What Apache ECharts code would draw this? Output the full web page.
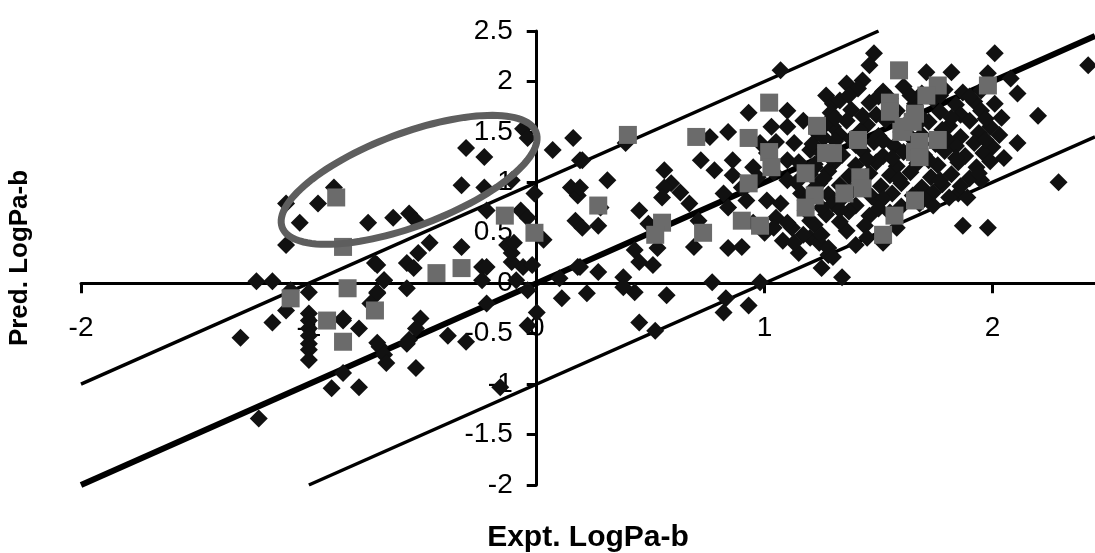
<!DOCTYPE html>
<html>
<head>
<meta charset="utf-8">
<title>Pred. vs Expt. LogPa-b</title>
<script src="https://cdn.jsdelivr.net/npm/echarts@6/dist/echarts.min.js"></script>
<style>
    html, body { margin: 0; padding: 0; background: #fff; }
    #chart { width: 1095px; height: 553px; }
</style>
</head>
<body>
<div id="chart"></div>
<script>
    // axis ticks
    var xTicks = [-2, -1, 0, 1, 2];
    var xMin = -2, xMax = 2.45;
    var yMin = -2, yMax = 2.5, yStep = 0.5;

    // reference lines: y = x, y = x + 1, y = x - 1
    var lineMid = [[-2, -2], [2.45, 2.45]];
    var lineUp = [[-2, -1], [1.5, 2.5]];
    var lineLow = [[-1, -2], [2.45, 1.45]];

    // black diamonds (Expt, Pred)
    var blackPts = [
        // left group
        [-1.30, -0.54], [-1.22, -1.34], [-1.23, 0.02], [-1.16, 0.02], [-1.16, -0.39],
        [-1.10, 0.79], [-1.04, 0.60], [-0.96, 0.79], [-0.89, 0.95], [-1.10, 0.38],
        [-1.08, -0.07], [-1.00, -0.09], [-1.10, -0.27],
        [-1.00, -0.30], [-1.00, -0.37], [-1.00, -0.45], [-1.00, -0.52], [-1.00, -0.60], [-1.00, -0.66], [-1.00, -0.76],
        [-0.85, -0.37], [-0.78, -0.45], [-0.71, 0.20], [-0.67, 0.03], [-0.70, -0.09],
        [-0.69, -0.63], [-0.85, -0.89], [-0.90, -1.04], [-0.78, -1.03],
        // inside the ellipse
        [-0.74, 0.60], [-0.63, 0.65], [-0.56, 0.69], [-0.53, 0.62], [-0.31, 1.34],
        [-0.23, 1.25], [-0.33, 0.97], [-0.23, 0.95], [-0.22, 0.72], [-0.06, 1.53],
        [-0.04, 1.44], [-0.11, 1.02],
        // around x = 0
        [-0.01, 0.89], [-0.07, 0.72], [-0.04, 0.65], [0.07, 1.32], [0.16, 1.44],
        [0.19, 1.22], [0.15, 0.95], [0.18, 0.87], [0.17, 0.62],
        [-0.47, 0.40], [-0.52, 0.30], [-0.57, 0.20], [-0.54, 0.15], [-0.70, 0.18],
        [-0.33, 0.36], [-0.24, 0.16], [-0.13, 0.38], [-0.11, 0.21], [-0.06, 0.16],
        [-0.02, 0.18], [0.03, 0.43], [-0.11, 0.30], [-0.24, 0.03], [-0.09, 0.03],
        [-0.04, -0.07], [-0.22, -0.20], [-0.57, -0.05], [-0.67, 0.03], [-0.70, -0.10],
        [-0.73, -0.20], [-0.85, -0.35], [-0.51, -0.35], [-0.53, -0.45], [-0.56, -0.56],
        [-0.70, -0.59], [-0.67, -0.71], [-0.66, -0.79], [-0.39, -0.52], [-0.31, -0.58],
        [-0.53, -0.84], [0.00, -0.29], [-0.04, -0.42], [0.11, -0.15], [0.10, 0.05],
        [0.18, 0.16], [0.22, -0.10], [-0.16, -1.03], [-0.22, 0.16], [-0.10, 0.40],
        [-0.57, -0.60],
        // 0.2 .. 1.3
        [1.07, 2.11], [0.93, 1.69], [1.10, 1.71], [1.03, 1.55], [1.10, 1.55],
        [1.17, 1.61], [1.27, 1.86], [1.30, 1.78], [0.84, 1.50], [0.76, 1.45],
        [0.20, 1.22], [0.31, 1.02], [0.19, 0.95], [0.39, 1.39], [0.56, 1.12],
        [0.59, 0.99], [0.56, 0.95], [0.63, 0.90], [0.55, 0.85], [0.72, 1.22],
        [0.78, 1.12], [0.86, 1.22], [0.86, 1.07], [0.95, 1.15], [0.98, 1.39],
        [1.01, 1.29], [1.04, 1.10], [1.10, 1.22], [1.13, 1.39], [0.82, 0.89],
        [0.84, 0.75], [0.92, 0.82], [1.01, 0.82], [1.07, 0.79], [0.67, 0.79],
        [0.71, 0.62], [0.45, 0.72], [0.49, 0.59], [0.27, 0.57], [0.20, 0.55],
        [0.28, 0.75], [1.16, 0.89], [1.10, 1.02], [1.20, 1.32], [1.30, 1.55],
        [0.27, 0.11], [0.38, 0.06], [0.43, -0.09], [0.38, -0.04], [0.43, 0.33],
        [0.45, 0.21], [0.51, 0.18], [0.57, -0.12], [0.45, -0.39], [0.52, -0.47],
        [0.77, 0.01], [0.83, -0.15], [0.82, -0.29], [0.93, -0.22], [0.98, 0.01],
        [0.69, 0.36], [0.84, 0.35], [0.90, 0.36], [1.25, 0.15], [1.28, 0.28],
        [0.53, 0.35], [0.19, 0.16],
        [1.05, 0.65], [1.12, 0.55], [1.18, 0.72], [1.00, 0.50], [1.08, 0.42],
        [1.20, 0.45], [1.15, 0.30], [0.95, 0.60], [1.22, 0.95], [1.15, 1.20],
        [1.05, 1.40], [1.22, 1.15], [1.20, 0.62], [0.90, 0.95], [0.97, 1.05],
        [1.10, 0.60], [1.17, 0.48], [1.24, 0.40], [1.28, 0.35],
        // right group edges
        [1.48, 2.28], [1.46, 2.16], [1.36, 1.98], [1.43, 2.01], [2.01, 2.28],
        [2.42, 2.16], [1.71, 2.09], [1.82, 2.09], [1.98, 2.08], [2.08, 2.03],
        [2.11, 1.88], [2.20, 1.66], [2.11, 1.39], [2.29, 1.00], [2.05, 1.24],
        [1.95, 1.02], [1.87, 0.57], [1.98, 0.55], [1.34, 0.06], [1.30, 0.26],
        [1.74, 0.77], [1.85, 0.89], [1.89, 0.85], [1.58, 0.55], [1.36, 0.52],
        // dense cluster
        [1.41, 1.93], [1.52, 1.90], [1.61, 1.95], [1.69, 1.88], [1.79, 1.92], [1.87, 1.89], [1.95, 1.91],
        [1.33, 1.81], [1.46, 1.79], [1.55, 1.83], [1.66, 1.78], [1.74, 1.82], [1.84, 1.77], [1.92, 1.80], [2.01, 1.78],
        [1.29, 1.69], [1.38, 1.72], [1.49, 1.67], [1.58, 1.71], [1.68, 1.66], [1.77, 1.70], [1.86, 1.67], [1.95, 1.71], [2.04, 1.64],
        [1.27, 1.58], [1.36, 1.61], [1.45, 1.57], [1.53, 1.62], [1.63, 1.58], [1.72, 1.60], [1.81, 1.56], [1.90, 1.61], [1.99, 1.55],
        [1.23, 1.49], [1.33, 1.47], [1.42, 1.51], [1.50, 1.46], [1.60, 1.50], [1.69, 1.47], [1.78, 1.52], [1.86, 1.45], [1.94, 1.49], [2.03, 1.47],
        [1.21, 1.38], [1.31, 1.41], [1.40, 1.37], [1.48, 1.40], [1.57, 1.36], [1.66, 1.41], [1.75, 1.38], [1.84, 1.36], [1.92, 1.39], [2.00, 1.35],
        [1.25, 1.29], [1.34, 1.27], [1.43, 1.31], [1.52, 1.26], [1.61, 1.30], [1.70, 1.27], [1.79, 1.31], [1.88, 1.26], [1.96, 1.29],
        [1.22, 1.18], [1.31, 1.21], [1.40, 1.17], [1.49, 1.20], [1.58, 1.16], [1.67, 1.19], [1.76, 1.17], [1.85, 1.20], [1.93, 1.15],
        [1.20, 1.08], [1.28, 1.11], [1.37, 1.06], [1.46, 1.09], [1.55, 1.07], [1.64, 1.10], [1.73, 1.05], [1.82, 1.08], [1.90, 1.04],
        [1.24, 0.99], [1.33, 0.97], [1.42, 1.01], [1.51, 0.96], [1.60, 0.99], [1.69, 0.95], [1.78, 0.98], [1.86, 0.96],
        [1.28, 0.88], [1.38, 0.91], [1.47, 0.86], [1.56, 0.89], [1.65, 0.87], [1.74, 0.90], [1.81, 0.85],
        [1.30, 0.79], [1.40, 0.77], [1.50, 0.80], [1.60, 0.76], [1.68, 0.79],
        [1.27, 0.68], [1.37, 0.71], [1.46, 0.67], [1.55, 0.70],
        [1.22, 0.58], [1.33, 0.61], [1.44, 0.57], [1.25, 0.48],
        [1.45, 0.45], [1.52, 0.40], [1.40, 0.38],
        // fill between rows of the dense cluster
        [1.37, 1.86], [1.50, 1.85], [1.64, 1.86], [1.77, 1.86], [1.90, 1.85],
        [1.31, 1.64], [1.43, 1.66], [1.56, 1.66], [1.69, 1.62], [1.82, 1.64], [1.97, 1.63],
        [1.26, 1.44], [1.38, 1.43], [1.52, 1.41], [1.64, 1.45], [1.80, 1.43], [1.97, 1.42],
        [1.29, 1.24], [1.45, 1.23], [1.56, 1.24], [1.72, 1.22], [1.84, 1.24], [1.99, 1.21],
        [1.26, 1.04], [1.41, 1.04], [1.59, 1.03], [1.77, 1.02], [1.94, 1.09],
        [1.34, 0.84], [1.52, 0.84], [1.70, 0.84], [1.33, 0.73], [1.50, 0.74],
        [1.18, 0.82], [1.14, 1.00], [1.25, 0.75], [1.13, 0.40], [1.04, 0.55]
    ];

    // grey squares (Expt, Pred)
    var greyPts = [
        [-1.08, -0.15], [-0.88, 0.85], [-0.92, -0.37], [-0.83, -0.05], [-0.85, -0.58],
        [-0.71, -0.27], [-0.85, 0.36], [-0.44, 0.10], [-0.33, 0.15], [-0.14, 0.67],
        [-0.01, 0.50],
        [0.40, 1.47], [0.70, 1.45], [1.02, 1.79], [0.93, 1.44], [1.02, 1.30],
        [1.03, 1.15], [0.93, 0.99], [1.18, 1.09], [1.23, 1.56], [1.27, 1.29],
        [1.22, 0.87], [1.18, 0.75], [0.90, 0.62], [0.98, 0.57], [0.55, 0.60],
        [0.52, 0.48], [0.73, 0.50], [0.27, 0.77],
        [1.59, 2.11], [1.76, 1.96], [1.71, 1.86], [1.98, 1.96], [1.55, 1.79],
        [1.66, 1.68], [1.61, 1.55], [1.41, 1.42], [1.76, 1.42], [1.66, 1.30],
        [1.42, 1.05], [1.30, 1.29], [1.55, 1.70], [1.60, 1.50], [1.65, 1.60],
        [1.68, 1.40], [1.68, 1.25],
        [1.35, 0.89], [1.43, 0.94], [1.66, 0.82], [1.57, 0.67], [1.52, 0.48]
    ];

    // outlier ellipse: centre and two conjugate half-axes in data units
    var ellipseCentre = [-0.56, 1.025];
    var ellipseU = [0.557, 0.472];
    var ellipseV = [0.072, -0.431];

    var font = "'Liberation Sans', Arial, sans-serif";
    var W = 1095, H = 553;
    var grid = { left: 81, right: 0, top: 31, bottom: 68 };

    // the axes cross at the origin: shift them in from the grid edges
    var plotW = W - grid.left - grid.right;
    var plotH = H - grid.top - grid.bottom;
    var xAxisShift = -plotH * (0 - yMin) / (yMax - yMin);
    var yAxisShift = -plotW * (0 - xMin) / (xMax - xMin);

    var chart = echarts.init(document.getElementById('chart'));

    var option = {
        animation: false,
        backgroundColor: '#fff',
        grid: { left: grid.left, right: grid.right, top: grid.top, bottom: grid.bottom, outerBoundsMode: 'none' },
        xAxis: {
            type: 'value',
            min: xMin,
            max: xMax,
            interval: 1,
            position: 'bottom',
            offset: xAxisShift,
            name: 'Expt. LogPa-b',
            nameLocation: 'middle',
            nameGap: 240,
            nameTextStyle: { fontFamily: font, fontSize: 30, fontWeight: 'bold', color: '#000' },
            axisLine: { onZero: false, lineStyle: { color: '#000', width: 3 } },
            axisTick: { show: true, length: 10, customValues: xTicks, lineStyle: { color: '#000', width: 3 } },
            axisLabel: { customValues: xTicks, margin: 31, fontFamily: font, fontSize: 28, color: '#000' },
            splitLine: { show: false }
        },
        yAxis: {
            type: 'value',
            min: yMin,
            max: yMax,
            interval: yStep,
            position: 'left',
            offset: yAxisShift,
            name: 'Pred. LogPa-b',
            nameLocation: 'middle',
            nameGap: 504,
            nameTextStyle: { fontFamily: font, fontSize: 26, fontWeight: 'bold', color: '#000' },
            axisLine: { onZero: false, lineStyle: { color: '#000', width: 3 } },
            axisTick: { show: true, length: 10, lineStyle: { color: '#000', width: 3 } },
            axisLabel: { margin: 24, fontFamily: font, fontSize: 28, color: '#000' },
            splitLine: { show: false }
        },
        series: [
            {
                type: 'line', data: lineUp, symbol: 'none', silent: true, z: 1,
                lineStyle: { color: '#000', width: 3.5 }
            },
            {
                type: 'line', data: lineMid, symbol: 'none', silent: true, z: 1,
                lineStyle: { color: '#000', width: 6 }
            },
            {
                type: 'line', data: lineLow, symbol: 'none', silent: true, z: 1,
                lineStyle: { color: '#000', width: 3.5 }
            },
            {
                type: 'scatter', data: blackPts, symbol: 'diamond', symbolSize: 18, z: 2,
                itemStyle: { color: '#111', opacity: 1 }
            },
            {
                type: 'scatter', data: greyPts, symbol: 'rect', symbolSize: 18, z: 3,
                itemStyle: { color: '#6b6b6b', opacity: 1 }
            },
            {
                type: 'custom',
                z: 4,
                silent: true,
                data: [[ellipseCentre[0], ellipseCentre[1], ellipseU[0], ellipseU[1], ellipseV[0], ellipseV[1]]],
                renderItem: function (params, api) {
                    var cx = api.value(0), cy = api.value(1);
                    var ux = api.value(2), uy = api.value(3);
                    var vx = api.value(4), vy = api.value(5);
                    var pts = [];
                    for (var i = 0; i < 120; i++) {
                        var t = i / 120 * Math.PI * 2;
                        pts.push(api.coord([
                            cx + ux * Math.cos(t) + vx * Math.sin(t),
                            cy + uy * Math.cos(t) + vy * Math.sin(t)
                        ]));
                    }
                    return {
                        type: 'polygon',
                        shape: { points: pts },
                        style: { fill: 'none', stroke: '#5e5e5e', lineWidth: 7 }
                    };
                }
            }
        ]
    };

    chart.setOption(option);
</script>
</body>
</html>
